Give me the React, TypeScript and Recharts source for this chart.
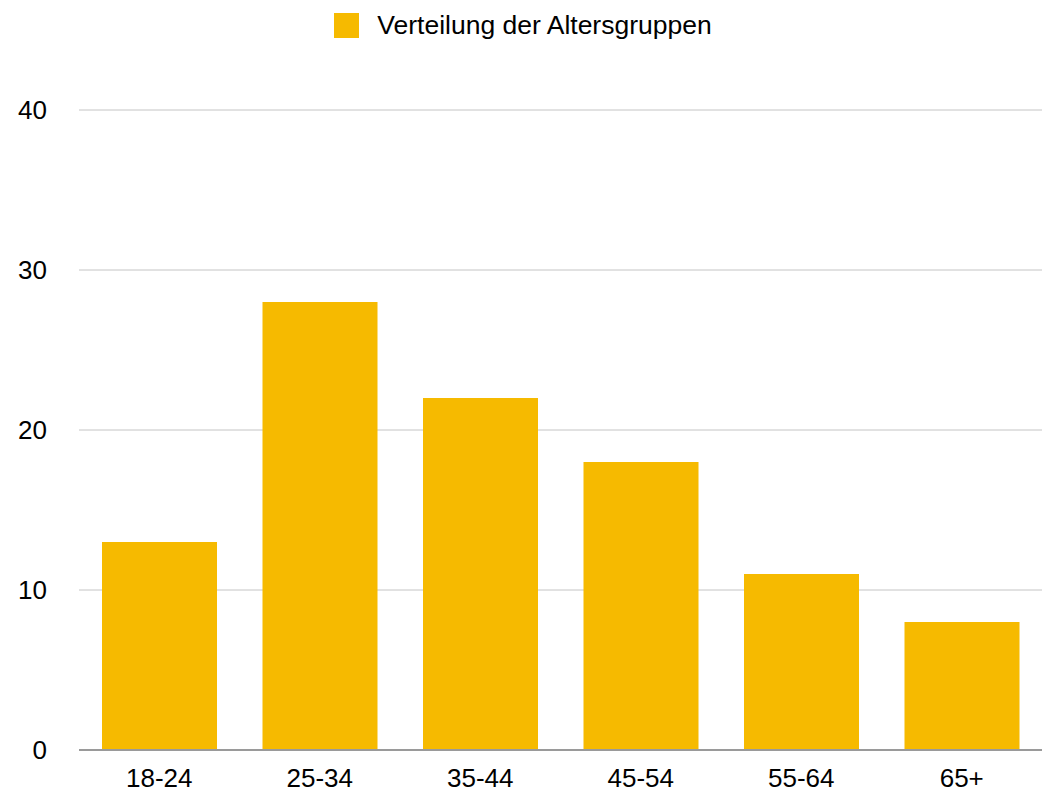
import React from "react";
import { BarChart, Bar, XAxis, YAxis, CartesianGrid, Legend } from "recharts";

const categories = ["18-24", "25-34", "35-44", "45-54", "55-64", "65+"];
const values = [13, 28, 22, 18, 11, 8];
const yTicks = [0, 10, 20, 30, 40];
const seriesName = "Verteilung der Altersgruppen";

const data = categories.map((c, i) => ({ name: c, value: values[i] }));

const FONT = '"Liberation Sans", Arial, Helvetica, sans-serif';
const COLOR = "#F6BA00";

const LegendContent = () => (
  <div style={{ height: 60, display: "flex", justifyContent: "center", alignItems: "flex-start" }}>
    <div style={{ display: "flex", alignItems: "center", marginTop: 13, marginLeft: 0 }}>
      <div style={{ width: 25, height: 25, background: COLOR, marginRight: 18 }} />
      <span style={{ fontFamily: FONT, fontSize: 26.5, color: "#000", lineHeight: "25px" }}>{seriesName}</span>
    </div>
  </div>
);

export default function App() {
  return (
    <div style={{ position: "absolute", left: 0, top: 0, background: "#fff" }}>
      <style>{`body{margin:0}`}</style>
      <BarChart
        width={1046}
        height={792}
        data={data}
        margin={{ top: 50, right: 4, bottom: 0, left: 0 }}
        barCategoryGap={23}
      >
        <Legend verticalAlign="top" align="center" content={<LegendContent />} wrapperStyle={{ top: 0, left: 0, width: 1046 }} />
        <CartesianGrid horizontal={true} vertical={false} stroke="#c4c4c4" strokeWidth={1} />
        <XAxis
          dataKey="name"
          height={42}
          tickLine={false}
          axisLine={{ stroke: "#9a9a9a", strokeWidth: 2 }}
          tickMargin={13}
          tick={{ fill: "#000", fontSize: 26, fontFamily: FONT }}
        />
        <YAxis
          width={79}
          domain={[0, 40]}
          ticks={yTicks}
          axisLine={false}
          tickLine={false}
          tickMargin={26}
          tick={{ fill: "#000", fontSize: 26, fontFamily: FONT }}
        />
        <Bar dataKey="value" name={seriesName} fill={COLOR} isAnimationActive={false} />
      </BarChart>
    </div>
  );
}
